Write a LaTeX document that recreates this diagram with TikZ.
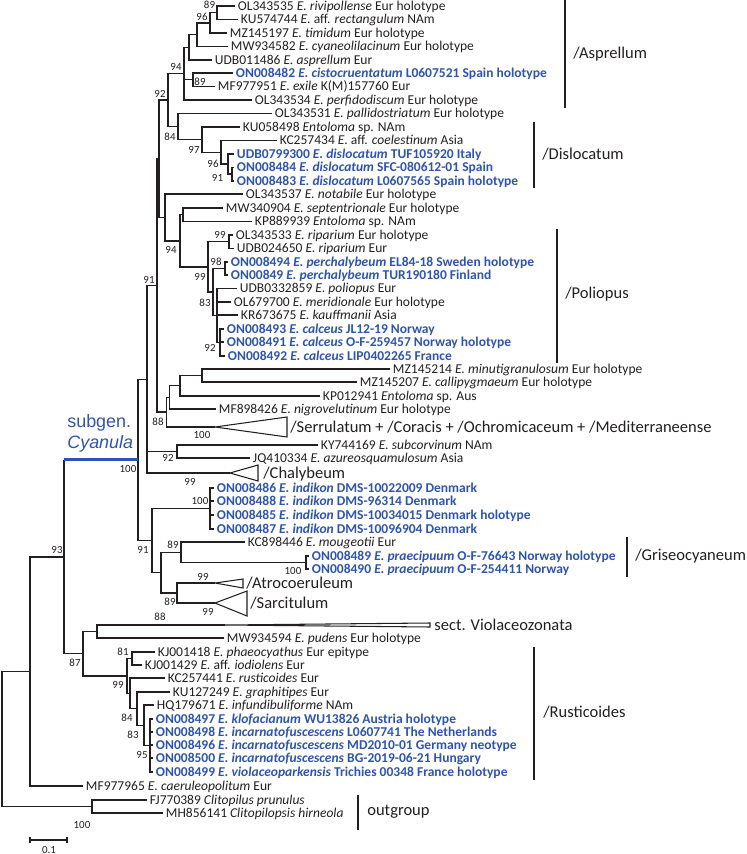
\documentclass[tikz,border=0pt]{standalone}
\usepackage{fontspec}
\setmainfont{Carlito}
\newfontfamily\arialfont{Liberation Sans}
\definecolor{cyblue}{RGB}{46,84,178}
\definecolor{ink}{RGB}{35,31,32}
\newcommand{\leaffont}{\fontsize{7.7}{9}\selectfont}
\newcommand{\bootfont}{\fontsize{6.2}{7}\selectfont}
\newcommand{\cladefont}{\fontsize{9.4}{11}\selectfont}

\begin{document}
\begin{tikzpicture}[
            x=0.02cm,
            y=-0.02cm,
            branch/.style={
                draw=ink,
                line width=0.85pt
            },
            cyline/.style={
                draw=cyblue,
                line width=1.8pt
            },
            taxon/.style={
                anchor=west,
                inner xsep=1.5pt,
                inner ysep=0pt,
                text height=5pt,
                text depth=0pt,
                font=\leaffont,
                text=ink
            },
            newseq/.style={
                taxon,
                font=\leaffont\bfseries,
                text=cyblue
            },
            boot/.style={
                inner sep=0pt,
                font=\bootfont,
                text=ink
            },
            clade/.style={
                anchor=west,
                inner sep=0pt,
                text height=6pt,
                text depth=0pt,
                font=\cladefont,
                text=ink
            },
            bar/.style={
                draw=ink,
                line width=1.2pt
            },
            collapsed/.style={
                draw=ink,
                line width=0.6pt
            }
        ]

            \useasboundingbox (0,0) rectangle (746,854);

            \node[taxon] (t1) at (235,6) {OL343535 \textit{E. rivipollense} Eur holotype};
            \node[taxon] (t2) at (238,19.5) {KU574744 \textit{E.} aff. \textit{rectangulum} NAm};
            \node[taxon] (t3) at (227,33) {MZ145197 \textit{E. timidum} Eur holotype};
            \node[taxon] (t4) at (228,46.5) {MW934582 \textit{E. cyaneolilacinum} Eur holotype};
            \node[taxon] (t5) at (212,60) {UDB011486 \textit{E. asprellum} Eur};
            \node[newseq] (t6) at (233,73) {ON008482 \textit{E. cistocruentatum} L0607521 Spain holotype};
            \node[taxon] (t7) at (215,86.5) {MF977951 \textit{E. exile} K(M)157760 Eur};
            \node[taxon] (t8) at (252,100) {OL343534 \textit{E. perfidodiscum} Eur holotype};
            \node[taxon] (t9) at (272,113.5) {OL343531 \textit{E. pallidostriatum} Eur holotype};
            \node[taxon] (t10) at (240,127) {KU058498 \textit{Entoloma} sp. NAm};
            \node[taxon] (t11) at (277,140.5) {KC257434 \textit{E.} aff. \textit{coelestinum} Asia};
            \node[newseq] (t12) at (234,154) {UDB0799300 \textit{E. dislocatum} TUF105920 Italy};
            \node[newseq] (t13) at (234,167.5) {ON008484 \textit{E. dislocatum} SFC-080612-01 Spain};
            \node[newseq] (t14) at (234,181) {ON008483 \textit{E. dislocatum} L0607565 Spain holotype};
            \node[taxon] (t15) at (243,194) {OL343537 \textit{E. notabile} Eur holotype};
            \node[taxon] (t16) at (223,208) {MW340904 \textit{E. septentrionale} Eur holotype};
            \node[taxon] (t17) at (252,221.5) {KP889939 \textit{Entoloma} sp. NAm};
            \node[taxon] (t18) at (233,235) {OL343533 \textit{E. riparium} Eur holotype};
            \node[taxon] (t19) at (234,248.5) {UDB024650 \textit{E. riparium} Eur};
            \node[newseq] (t20) at (228,262) {ON008494 \textit{E. perchalybeum} EL84-18 Sweden holotype};
            \node[newseq] (t21) at (228,275) {ON00849 \textit{E. perchalybeum} TUR190180 Finland};
            \node[taxon] (t22) at (237,288.5) {UDB0332859 \textit{E. poliopus} Eur};
            \node[taxon] (t23) at (231,302) {OL679700 \textit{E. meridionale} Eur holotype};
            \node[taxon] (t24) at (238,315) {KR673675 \textit{E. kauffmanii} Asia};
            \node[newseq] (t25) at (224,329) {ON008493 \textit{E. calceus} JL12-19 Norway};
            \node[newseq] (t26) at (224,342) {ON008491 \textit{E. calceus} O-F-259457 Norway holotype};
            \node[newseq] (t27) at (225,356) {ON008492 \textit{E. calceus} LIP0402265 France};
            \node[taxon] (t28) at (390,369) {MZ145214 \textit{E. minutigranulosum} Eur holotype};
            \node[taxon] (t29) at (357,382) {MZ145207 \textit{E. callipygmaeum} Eur holotype};
            \node[taxon] (t30) at (320,396) {KP012941 \textit{Entoloma} sp. Aus};
            \node[taxon] (t31) at (216,409) {MF898426 \textit{E. nigrovelutinum} Eur holotype};
            \node[taxon] (t33) at (318,445) {KY744169 \textit{E. subcorvinum} NAm};
            \node[taxon] (t34) at (250,458) {JQ410334 \textit{E. azureosquamulosum} Asia};
            \node[newseq] (t36) at (214,488) {ON008486 \textit{E. indikon} DMS-10022009 Denmark};
            \node[newseq] (t37) at (214,501) {ON008488 \textit{E. indikon} DMS-96314 Denmark};
            \node[newseq] (t38) at (214,515) {ON008485 \textit{E. indikon} DMS-10034015 Denmark holotype};
            \node[newseq] (t39) at (214,529) {ON008487 \textit{E. indikon} DMS-10096904 Denmark};
            \node[taxon] (t40) at (245,542) {KC898446 \textit{E. mougeotii} Eur};
            \node[newseq] (t41) at (309,556) {ON008489 \textit{E. praecipuum} O-F-76643 Norway holotype};
            \node[newseq] (t42) at (309,569) {ON008490 \textit{E. praecipuum} O-F-254411 Norway};
            \node[taxon] (t46) at (224,638) {MW934594 \textit{E. pudens} Eur holotype};
            \node[taxon] (t47) at (155,652) {KJ001418 \textit{E. phaeocyathus} Eur epitype};
            \node[taxon] (t48) at (142,665) {KJ001429 \textit{E.} aff. \textit{iodiolens} Eur};
            \node[taxon] (t49) at (165,678) {KC257441 \textit{E. rusticoides} Eur};
            \node[taxon] (t50) at (170,692) {KU127249 \textit{E. graphitipes} Eur};
            \node[taxon] (t51) at (154,705) {HQ179671 \textit{E. infundibuliforme} NAm};
            \node[newseq] (t52) at (153,719) {ON008497 \textit{E. klofacianum} WU13826 Austria holotype};
            \node[newseq] (t53) at (153,732) {ON008498 \textit{E. incarnatofuscescens} L0607741 The Netherlands};
            \node[newseq] (t54) at (153,745) {ON008496 \textit{E. incarnatofuscescens} MD2010-01 Germany neotype};
            \node[newseq] (t55) at (153,758) {ON008500 \textit{E. incarnatofuscescens} BG-2019-06-21 Hungary};
            \node[newseq] (t56) at (153,772) {ON008499 \textit{E. violaceoparkensis} Trichies 00348 France holotype};
            \node[taxon] (t57) at (83,786) {MF977965 \textit{E. caeruleopolitum} Eur};
            \node[taxon] (t58) at (147,800) {FJ770389 \textit{Clitopilus prunulus}};
            \node[taxon] (t59) at (163,813) {MH856141 \textit{Clitopilopsis hirneola}};

            \coordinate (nE) at (217,12.75);
            \coordinate (nD) at (210,22.9);
            \coordinate (nC) at (197,34.7);
            \coordinate (nB) at (189,47.3);
            \coordinate (nF) at (193,79.75);
            \coordinate (nA) at (184,73.7);
            \coordinate (nI) at (232,174.25);
            \coordinate (nH) at (228,164.1);
            \coordinate (nG) at (221,152.3);
            \coordinate (n97) at (202,139.7);
            \coordinate (n84) at (178,126.6);
            \coordinate (n92) at (168,100.2);
            \coordinate (nQ) at (183,214.75);
            \coordinate (nS) at (229,241.75);
            \coordinate (n98) at (225,268.5);
            \coordinate (n92c) at (220,342.5);
            \coordinate (nV) at (217,315.5);
            \coordinate (nU) at (213,292);
            \coordinate (nR) at (208,266.9);
            \coordinate (nP) at (180,240.8);
            \coordinate (nN) at (165,217.4);
            \coordinate (nM1) at (159,158.8);
            \coordinate (nL) at (202,375.5);
            \coordinate (nK) at (180,385.75);
            \coordinate (nJ) at (169.5,397.4);
            \coordinate (n88) at (166.5,412.2);
            \coordinate (nM) at (157,285.5);
            \coordinate (n92k) at (177,451.5);
            \coordinate (nW) at (147,379.25);
            \coordinate (nInd) at (210,508.5);
            \coordinate (nPra) at (306,562.5);
            \coordinate (n89m) at (181,552.25);
            \coordinate (n89a) at (177,593);
            \coordinate (nX) at (161,572.6);
            \coordinate (nY) at (152,540.6);
            \coordinate (nZ) at (138,459.9);
            \coordinate (n95) at (150,745.5);
            \coordinate (n83) at (144,725.25);
            \coordinate (n84r) at (137,708.6);
            \coordinate (nBB) at (130,693.3);
            \coordinate (n81) at (132,658.5);
            \coordinate (n99r) at (127,675.9);
            \coordinate (n88v) at (97,631.5);
            \coordinate (n87) at (83,653.7);
            \coordinate (n93) at (64,556.8);
            \coordinate (nAA) at (30,671.4);
            \coordinate (nOut) at (92,806.5);
            \coordinate (nRoot) at (2,739);

            \coordinate (aSerr) at (215,427);
            \coordinate (aChal) at (230,473);
            \coordinate (aAtro) at (215,583);
            \coordinate (aSarc) at (215,603);
            \coordinate (aViol) at (225,625);

            \draw[branch] (nE) |- (t1.west);
            \draw[branch] (nE) |- (t2.west);
            \draw[branch] (nD) |- (nE);
            \draw[branch] (nD) |- (t3.west);
            \draw[branch] (nC) |- (nD);
            \draw[branch] (nC) |- (t4.west);
            \draw[branch] (nB) |- (nC);
            \draw[branch] (nB) |- (t5.west);
            \draw[branch] (nF) |- (t6.west);
            \draw[branch] (nF) |- (t7.west);
            \draw[branch] (nA) |- (nB);
            \draw[branch] (nA) |- (nF);
            \draw[branch] (nA) |- (t8.west);

            \draw[branch] (nI) |- (t13.west);
            \draw[branch] (nI) |- (t14.west);
            \draw[branch] (nH) |- (t12.west);
            \draw[branch] (nH) |- (nI);
            \draw[branch] (nG) |- (t11.west);
            \draw[branch] (nG) |- (nH);
            \draw[branch] (n97) |- (t10.west);
            \draw[branch] (n97) |- (nG);
            \draw[branch] (n84) |- (t9.west);
            \draw[branch] (n84) |- (n97);
            \draw[branch] (n92) |- (nA);
            \draw[branch] (n92) |- (n84);

            \draw[branch] (nQ) |- (t16.west);
            \draw[branch] (nQ) |- (t17.west);
            \draw[branch] (nS) |- (t18.west);
            \draw[branch] (nS) |- (t19.west);
            \draw[branch] (n98) |- (t20.west);
            \draw[branch] (n98) |- (t21.west);
            \foreach \c in {t25,t26,t27}
                \draw[branch] (n92c) |- (\c.west);
            \foreach \c in {t22,t23,t24}
                \draw[branch] (nV) |- (\c.west);
            \draw[branch] (nV) |- (n92c);
            \draw[branch] (nU) |- (n98);
            \draw[branch] (nU) |- (nV);
            \draw[branch] (nR) |- (nS);
            \draw[branch] (nR) |- (nU);
            \draw[branch] (nP) |- (nQ);
            \draw[branch] (nP) |- (nR);
            \draw[branch] (nN) |- (t15.west);
            \draw[branch] (nN) |- (nP);
            \draw[branch] (nM1) |- (n92);
            \draw[branch] (nM1) |- (nN);

            \draw[branch] (nL) |- (t28.west);
            \draw[branch] (nL) |- (t29.west);
            \draw[branch] (nK) |- (nL);
            \draw[branch] (nK) |- (t30.west);
            \draw[branch] (nJ) |- (nK);
            \draw[branch] (nJ) |- (t31.west);
            \draw[branch] (n88) |- (nJ);
            \draw[branch] (n88) |- (aSerr);
            \draw[branch] (nM) |- (nM1);
            \draw[branch] (nM) |- (n88);
            \draw[branch] (n92k) |- (t33.west);
            \draw[branch] (n92k) |- (t34.west);
            \draw[branch] (nW) |- (nM);
            \draw[branch] (nW) |- (n92k);
            \draw[branch] (nW) |- (aChal);

            \foreach \c in {t36,t37,t38,t39}
                \draw[branch] (nInd) |- (\c.west);
            \draw[branch] (nPra) |- (t41.west);
            \draw[branch] (nPra) |- (t42.west);
            \draw[branch] (n89m) |- (t40.west);
            \draw[branch] (n89m) |- (nPra);
            \draw[branch] (n89a) |- (aAtro);
            \draw[branch] (n89a) |- (aSarc);
            \draw[branch] (nX) |- (n89m);
            \draw[branch] (nX) |- (n89a);
            \draw[branch] (nY) |- (nInd);
            \draw[branch] (nY) |- (nX);
            \draw[branch] (nZ) |- (nW);
            \draw[branch] (nZ) |- (nY);

            \foreach \c in {t52,t53,t54,t55,t56}
                \draw[branch] (n95) |- (\c.west);
            \draw[branch] (n83) |- (t51.west);
            \draw[branch] (n83) |- (n95);
            \draw[branch] (n84r) |- (t50.west);
            \draw[branch] (n84r) |- (n83);
            \draw[branch] (nBB) |- (t49.west);
            \draw[branch] (nBB) |- (n84r);
            \draw[branch] (n81) |- (t47.west);
            \draw[branch] (n81) |- (t48.west);
            \draw[branch] (n99r) |- (n81);
            \draw[branch] (n99r) |- (nBB);
            \draw[branch] (n88v) |- (aViol);
            \draw[branch] (n88v) |- (t46.west);
            \draw[branch] (n87) |- (n88v);
            \draw[branch] (n87) |- (n99r);
            \draw[branch] (n93) -- (n93 |- nZ);
            \draw[cyline] (n93 |- nZ) -- (nZ);
            \draw[branch] (n93) |- (n87);
            \draw[branch] (nAA) |- (n93);
            \draw[branch] (nAA) |- (t57.west);
            \draw[branch] (nOut) |- (t58.west);
            \draw[branch] (nOut) |- (t59.west);
            \draw[branch] (nRoot) |- (nAA);
            \draw[branch] (nRoot) |- (nOut);

            \draw[collapsed] (aSerr) -- (287,417) -- (287,437) -- cycle;
            \draw[collapsed] (aChal) -- (258,465) -- (258,481) -- cycle;
            \draw[collapsed] (aAtro) -- (243,579) -- (243,588) -- cycle;
            \draw[collapsed] (aSarc) -- (247,591) -- (247,616) -- cycle;
            \draw[collapsed] (aViol) -- (430,623) -- (430,627) -- cycle;

            \node[clade] (serr) at (290,427) {/Serrulatum + /Coracis + /Ochromicaceum + /Mediterraneense};
            \node[clade] (chal) at (263,473) {/Chalybeum};
            \node[clade] (atro) at (246,583) {/Atrocoeruleum};
            \node[clade] (sarc) at (250,603) {/Sarcitulum};
            \node[clade] (viol) at (434,625) {sect. Violaceozonata};

            \node[boot] (b1) at (209.5,5) {89};
            \node[boot] (b2) at (202,17) {96};
            \node[boot] (b3) at (176,67) {94};
            \node[boot] (b4) at (200,82) {89};
            \node[boot] (b5) at (160,94) {92};
            \node[boot] (b6) at (170,137) {84};
            \node[boot] (b7) at (194,150) {97};
            \node[boot] (b8) at (213,164) {96};
            \node[boot] (b9) at (217.5,178) {91};
            \node[boot] (b10) at (149,280) {91};
            \node[boot] (b11) at (171,250) {94};
            \node[boot] (b12) at (220,235) {99};
            \node[boot] (b13) at (216,262) {98};
            \node[boot] (b14) at (200,277) {99};
            \node[boot] (b15) at (205,303) {83};
            \node[boot] (b16) at (210,348) {92};
            \node[boot] (b17) at (158,422) {88};
            \node[boot] (b18) at (202,435) {100};
            \node[boot] (b19) at (168,458) {92};
            \node[boot] (b20) at (190,482) {99};
            \node[boot] (b21) at (128,469) {100};
            \node[boot] (b22) at (200,501) {100};
            \node[boot] (b23) at (173,545) {89};
            \node[boot] (b24) at (293,571) {100};
            \node[boot] (b25) at (143,550) {91};
            \node[boot] (b26) at (203,577) {99};
            \node[boot] (b27) at (170,602) {89};
            \node[boot] (b28) at (208,612) {99};
            \node[boot] (b29) at (57,550) {93};
            \node[boot] (b30) at (160,617) {88};
            \node[boot] (b31) at (75,663) {87};
            \node[boot] (b32) at (123,652) {81};
            \node[boot] (b33) at (118,685) {99};
            \node[boot] (b34) at (127,718) {84};
            \node[boot] (b35) at (133,735) {83};
            \node[boot] (b36) at (142,755) {95};
            \node[boot] (b37) at (82,825) {100};

            \node[anchor=west, align=left, inner sep=0pt, text=cyblue,
                font=\arialfont\fontsize{10.2}{12}\selectfont] (cyan) at (67,433)
                {subgen.\\\textit{Cyanula}};

            \draw[bar] (565,0) -- (565,108);
            \node[clade] (aspr) at (573,53) {/Asprellum};
            \draw[bar] (534,122) -- (534,188);
            \node[clade] (disl) at (542,154) {/Dislocatum};
            \draw[bar] (557,229) -- (557,363);
            \node[clade] (poli) at (565,293) {/Poliopus};
            \draw[bar] (627,537) -- (627,577);
            \node[clade] (gris) at (635,555) {/Griseocyaneum};
            \draw[bar] (534,647) -- (534,780);
            \node[clade] (rust) at (543,712) {/Rusticoides};
            \draw[bar] (358,795) -- (358,830);
            \node[clade] (outg) at (367,810) {outgroup};

            \draw[branch] (30,837) -- (30,843);
            \draw[branch] (30,840) -- (67,840);
            \draw[branch] (67,837) -- (67,843);
            \node[boot] (scale) at (49,850) {0.1};

        \end{tikzpicture}
\end{document}
